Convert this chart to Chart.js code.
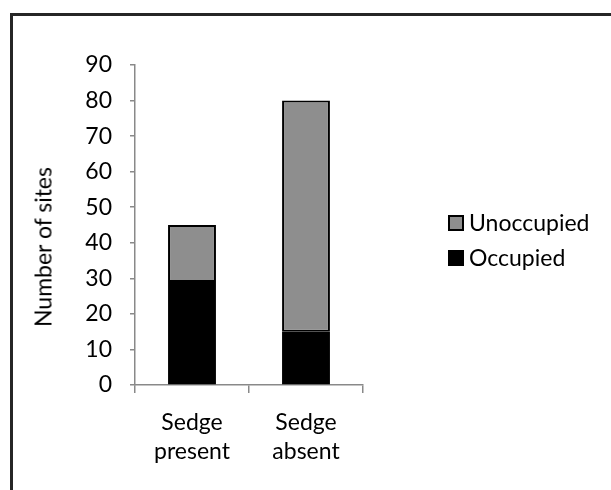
<!DOCTYPE html>
<html>
<head>
<meta charset="utf-8">
<script src="https://cdn.jsdelivr.net/npm/chart.js@4.4.1/dist/chart.umd.min.js"></script>
<style>
  html, body { margin: 0; padding: 0; background: #fff; overflow: hidden; }
  #wrap { position: relative; width: 611px; height: 490px; overflow: hidden; background: #fff; }
  #frame { position: absolute; left: 10px; top: 13px; width: 700px; height: 600px; border: 3px solid #262626; box-sizing: border-box; }
  #c { position: absolute; left: 0; top: 0; }
  .txt { position: absolute; font-family: Lato, "Noto Sans", sans-serif; font-size: 23px; color: #000; white-space: nowrap; line-height: 1; }
  #ytitle { left: 43px; top: 246.5px; transform: translate(-50%, -50%) rotate(-90deg); }
  .lg { position: absolute; left: 448px; display: flex; align-items: center; }
  .lg .box { width: 16px; height: 16px; box-sizing: border-box; border: 2px solid #000; margin-right: 5px; }
  .lg span { font-family: Lato, "Noto Sans", sans-serif; font-size: 23px; line-height: 1; color: #000; }
</style>
</head>
<body>
<div id="wrap">
  <div id="frame"></div>
  <canvas id="c" width="611" height="490"></canvas>
  <div id="ytitle" class="txt"></div>
  <div id="legend"></div>
</div>
<script>
const categories = [["Sedge", "present"], ["Sedge", "absent"]];
const occupied = [29, 15];
const unoccupied = [16, 65];
const seriesNames = ["Occupied", "Unoccupied"];
const seriesColors = ["#000000", "#8e8e8e"];
const yAxisTitle = "Number of sites";
const yMin = 0, yMax = 90, yStep = 10;

const FONT = { family: "Lato, 'Noto Sans', sans-serif", size: 23 };
const AXIS = "#898989";

new Chart(document.getElementById("c"), {
  type: "bar",
  data: {
    labels: categories,
    datasets: [
      { label: seriesNames[0], data: occupied, backgroundColor: seriesColors[0], borderColor: "#000", borderWidth: 0, borderSkipped: false },
      { label: seriesNames[1], data: unoccupied, backgroundColor: seriesColors[1], borderColor: "#000", borderWidth: 2, borderSkipped: false }
    ]
  },
  options: {
    responsive: false,
    animation: false,
    devicePixelRatio: 1,
    layout: { padding: { left: 0, top: 65, right: 248, bottom: 0 } },
    datasets: { bar: { barPercentage: 0.42, categoryPercentage: 1 } },
    plugins: { legend: { display: false }, tooltip: { enabled: false } },
    scales: {
      x: {
        stacked: true,
        grid: { display: true, drawOnChartArea: false, drawTicks: true, tickLength: 8, color: AXIS, lineWidth: 1.5, offset: true },
        border: { display: true, color: AXIS, width: 1.5 },
        ticks: { color: "#000", font: { ...FONT, lineHeight: 1.22 }, padding: 16, maxRotation: 0 },
        afterFit: (s) => { s.height = 105; }
      },
      y: {
        stacked: true,
        min: yMin, max: yMax,
        grid: { display: true, drawOnChartArea: false, drawTicks: true, tickLength: 5, color: AXIS, lineWidth: 1.5 },
        border: { display: true, color: AXIS, width: 1.5 },
        ticks: { stepSize: yStep, color: "#000", font: FONT, padding: 18 },
        afterFit: (s) => { s.width = 135; }
      }
    }
  }
});

document.getElementById("ytitle").textContent = yAxisTitle;
const legendTops = [211, 246];
const lg = document.getElementById("legend");
[1, 0].forEach((si, i) => {
  const row = document.createElement("div");
  row.className = "lg";
  row.style.top = legendTops[i] + "px";
  const b = document.createElement("div");
  b.className = "box";
  b.style.background = seriesColors[si];
  const t = document.createElement("span");
  t.textContent = seriesNames[si];
  row.appendChild(b); row.appendChild(t);
  lg.appendChild(row);
});
</script>
</body>
</html>
